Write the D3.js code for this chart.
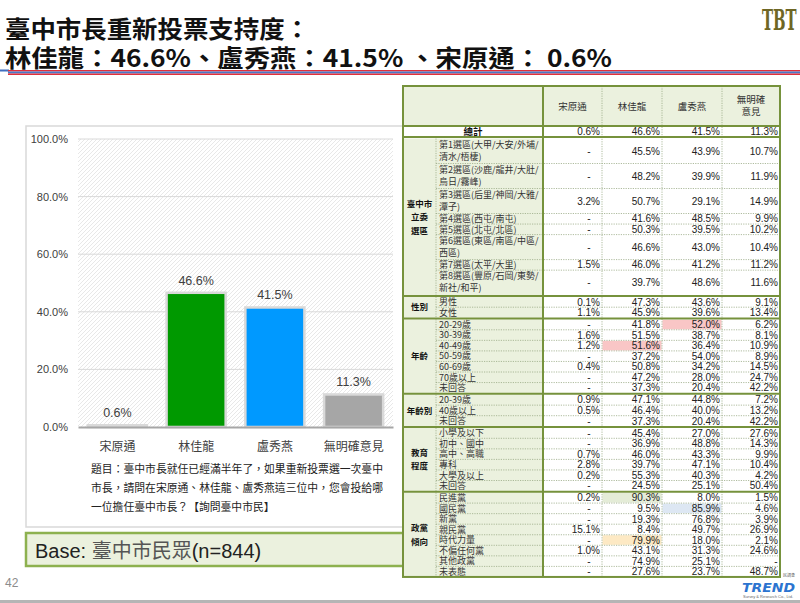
<!DOCTYPE html>
<html><head><meta charset="utf-8">
<script src="https://cdn.jsdelivr.net/npm/d3@7"></script>
<style>body{margin:0;background:#fff}svg{display:block}</style>
</head><body><svg id="c" width="800" height="603"></svg>
<script>
// ---------- data ----------
const titleLines = ["臺中市長重新投票支持度：", "林佳龍：46.6%、盧秀燕：41.5% 、宋原通： 0.6%"];
const categories = ["宋原通", "林佳龍", "盧秀燕", "無明確意見"];
const support = [0.6, 46.6, 41.5, 11.3];
const yTicks = [0, 20, 40, 60, 80, 100];
const questionLines = ["題目：臺中市長就任已經滿半年了，如果重新投票選一次臺中",
  "市長，請問在宋原通、林佳龍、盧秀燕這三位中，您會投給哪",
  "一位擔任臺中市長？【詢問臺中市民】"];
const baseLabel = ["Base: ", "臺中市民眾", "(n=844)"];
const pageNumber = "42";

const tableHeaders = ["宋原通", "林佳龍", "盧秀燕", "無明確\n意見"];
const totalLabel = "總計";
const totalValues = [0.6, 46.6, 41.5, 11.3];

const groupNames = ["臺中市\n立委\n選區", "性別", "年齡", "年齡別", "教育\n程度", "政黨\n傾向"];
const districtLabels = ["第1選區(大甲/大安/外埔/\n清水/梧棲)", "第2選區(沙鹿/龍井/大肚/\n烏日/霧峰)",
  "第3選區(后里/神岡/大雅/\n潭子)", "第4選區(西屯/南屯)", "第5選區(北屯/北區)",
  "第6選區(東區/南區/中區/\n西區)", "第7選區(太平/大里)", "第8選區(豐原/石岡/東勢/\n新社/和平)"];
const districtValues = [[null, 45.5, 43.9, 10.7], [null, 48.2, 39.9, 11.9], [3.2, 50.7, 29.1, 14.9],
  [null, 41.6, 48.5, 9.9], [null, 50.3, 39.5, 10.2], [null, 46.6, 43.0, 10.4], [1.5, 46.0, 41.2, 11.2],
  [null, 39.7, 48.6, 11.6]];
const genderLabels = ["男性", "女性"];
const genderValues = [[0.1, 47.3, 43.6, 9.1], [1.1, 45.9, 39.6, 13.4]];
const ageLabels = ["20-29歲", "30-39歲", "40-49歲", "50-59歲", "60-69歲", "70歲以上", "未回答"];
const ageValues = [[null, 41.8, 52.0, 6.2], [1.6, 51.5, 38.7, 8.1], [1.2, 51.6, 36.4, 10.9],
  [null, 37.2, 54.0, 8.9], [0.4, 50.8, 34.2, 14.5], [null, 47.2, 28.0, 24.7], [null, 37.3, 20.4, 42.2]];
const ageGroupLabels = ["20-39歲", "40歲以上", "未回答"];
const ageGroupValues = [[0.9, 47.1, 44.8, 7.2], [0.5, 46.4, 40.0, 13.2], [null, 37.3, 20.4, 42.2]];
const eduLabels = ["小學及以下", "初中、國中", "高中、高職", "專科", "大學及以上", "未回答"];
const eduValues = [[null, 45.4, 27.0, 27.6], [null, 36.9, 48.8, 14.3], [0.7, 46.0, 43.3, 9.9],
  [2.8, 39.7, 47.1, 10.4], [0.2, 55.3, 40.3, 4.2], [null, 24.5, 25.1, 50.4]];
const partyLabels = ["民進黨", "國民黨", "新黨", "親民黨", "時代力量", "不偏任何黨", "其他政黨", "未表態"];
const partyValues = [[0.2, 90.3, 8.0, 1.5], [null, 9.5, 85.9, 4.6], [null, 19.3, 76.8, 3.9],
  [15.1, 8.4, 49.7, 26.9], [null, 79.9, 18.0, 2.1], [1.0, 43.1, 31.3, 24.6], [null, 74.9, 25.1, null],
  [null, 27.6, 23.7, 48.7]];
// highlighted cells: [group index, row index, value column index, colour]
const highlights = [[2, 0, 2, "#f9c6c6"], [2, 2, 1, "#f9c6c6"], [5, 0, 1, "#e4ecd7"],
  [5, 1, 2, "#dde7f3"], [5, 4, 1, "#fde9c4"]];

// ---------- styles ----------
const LAT = "'Liberation Sans','Noto Sans CJK TC',sans-serif";
const CJK = "'Noto Sans CJK TC','Liberation Sans',sans-serif";
const barColors = ["#cfcff5", "#009900", "#0099ff", "#a6a6a6"];
const svg = d3.select("#c");

// ---------- header ----------
svg.append("text").attr("x", 5).attr("y", 37.5).attr("font-family", CJK).attr("font-weight", 700)
  .attr("font-size", 24).attr("fill", "#111").attr("textLength", 305).attr("lengthAdjust", "spacingAndGlyphs")
  .text(titleLines[0]);
svg.append("text").attr("x", 5).attr("y", 67).attr("font-family", CJK).attr("font-weight", 700)
  .attr("font-size", 24).attr("fill", "#111").attr("textLength", 607).attr("lengthAdjust", "spacingAndGlyphs")
  .text(titleLines[1]);
svg.append("rect").attr("x", 0).attr("y", 69.5).attr("width", 9).attr("height", 2).attr("fill", "#3f6fc0");
svg.append("rect").attr("x", 8).attr("y", 70).attr("width", 792).attr("height", 1.5).attr("fill", "#e0303c");
svg.append("rect").attr("x", 8).attr("y", 71.5).attr("width", 792).attr("height", 2).attr("fill", "#4a78c8");
svg.append("rect").attr("x", 8).attr("y", 73.5).attr("width", 792).attr("height", 1.5).attr("fill", "#e0303c");
svg.append("text").attr("transform", "translate(762,30) scale(0.55,1)")
  .attr("font-family", "'DejaVu Serif',serif").attr("font-weight", 700)
  .attr("font-size", 27).attr("fill", "#6e6624").text("TBT");

// ---------- chart panel ----------
svg.append("rect").attr("x", 26).attr("y", 126).attr("width", 377).attr("height", 401)
  .attr("fill", "#fff").attr("stroke", "#d9d9d9").attr("stroke-width", 1.5);

const x = d3.scaleBand().domain(categories).range([78, 393]).paddingInner(0.25).paddingOuter(0.125);
const y = d3.scaleLinear().domain([0, 100]).range([427, 139]);

const defs = svg.append("defs");
const pat = defs.append("pattern").attr("id", "hatch").attr("width", 4).attr("height", 4)
  .attr("patternUnits", "userSpaceOnUse");
pat.append("path").attr("d", "M-1,1 l2,-2 M0,4 l4,-4 M3,5 l2,-2").attr("stroke", "#e2e2e2").attr("stroke-width", 0.8);

svg.append("rect").attr("x", 78).attr("y", y(100)).attr("width", 315).attr("height", y(0) - y(100))
  .attr("fill", "url(#hatch)");
svg.append("g").selectAll("line").data(yTicks.filter(d => d > 0)).join("line")
  .attr("x1", 78).attr("x2", 393).attr("y1", d => y(d)).attr("y2", d => y(d))
  .attr("stroke", "#d9d9d9").attr("stroke-width", 1);

const yAxis = svg.append("g").attr("transform", "translate(78,0)")
  .call(d3.axisLeft(y).tickValues(yTicks).tickFormat(d => d.toFixed(1) + "%").tickSize(0).tickPadding(10));
yAxis.select(".domain").remove();
yAxis.selectAll("text").attr("font-family", LAT).attr("font-size", 11).attr("fill", "#404040");

svg.append("g").selectAll("rect").data(categories).join("rect")
  .attr("x", d => x(d)).attr("y", (d, i) => y(support[i])).attr("width", x.bandwidth())
  .attr("height", (d, i) => y(0) - y(support[i])).attr("fill", (d, i) => barColors[i])
  .attr("stroke", "#d9d9d9").attr("stroke-width", 2.5);

const xAxis = svg.append("g").attr("transform", "translate(0,427)")
  .call(d3.axisBottom(x).tickSize(0).tickPadding(15));
xAxis.select(".domain").attr("stroke", "#a6a6a6").attr("stroke-width", 2);
xAxis.selectAll("text").attr("font-family", CJK).attr("font-size", 12).attr("fill", "#404040");

svg.append("g").selectAll("text").data(categories).join("text")
  .attr("x", d => x(d) + x.bandwidth() / 2).attr("y", (d, i) => y(support[i]) - 8)
  .attr("text-anchor", "middle").attr("font-family", LAT).attr("font-size", 12.5).attr("fill", "#404040")
  .text((d, i) => support[i].toFixed(1) + "%");

questionLines.forEach((l, i) => {
  const t = svg.append("text").attr("x", 91).attr("y", 473 + i * 19).attr("font-family", CJK)
    .attr("font-size", 10.8).attr("fill", "#222").text(l);
  if (i < 2) t.attr("textLength", 292).attr("lengthAdjust", "spacingAndGlyphs");
});

// base box
svg.append("rect").attr("x", 26).attr("y", 533).attr("width", 385).attr("height", 33)
  .attr("fill", "#ebf1de").attr("stroke", "#8db14f").attr("stroke-width", 2.5);
const bt = svg.append("text").attr("x", 35).attr("y", 558).attr("font-family", LAT).attr("font-size", 20);
bt.append("tspan").attr("fill", "#222").text(baseLabel[0]);
bt.append("tspan").attr("fill", "#555").attr("font-family", CJK).text(baseLabel[1]);
bt.append("tspan").attr("fill", "#222").text(baseLabel[2]);

svg.append("text").attr("x", 5).attr("y", 587).attr("font-family", LAT).attr("font-size", 12)
  .attr("fill", "#8c8c8c").text(pageNumber);
svg.append("rect").attr("x", 0).attr("y", 600).attr("width", 800).attr("height", 3).attr("fill", "#b5b5b5");

// ---------- table ----------
const colX = [403, 436, 543, 602, 662, 722, 780];
const T0 = 86, HB = 126, TB = 137;
const groupLabels = [districtLabels, genderLabels, ageLabels, ageGroupLabels, eduLabels, partyLabels];
const groupValues = [districtValues, genderValues, ageValues, ageGroupValues, eduValues, partyValues];
let yc = TB;
const groups = groupNames.map((name, gi) => {
  yc += 1.5;
  const top = yc;
  const rows = groupLabels[gi].map((lab, ri) => {
    const h = lab.includes("\n") ? 25 : 10.55;
    const r = {label: lab, vals: groupValues[gi][ri], top: yc, h: h};
    yc += h;
    return r;
  });
  return {name, top, bottom: yc, rows};
});
const TBOT = yc;
const tg = svg.append("g");
tg.append("rect").attr("x", colX[0]).attr("y", T0).attr("width", colX[6] - colX[0]).attr("height", TBOT - T0).attr("fill", "#fff");
tg.append("rect").attr("x", colX[0]).attr("y", T0).attr("width", colX[6] - colX[0]).attr("height", HB - T0).attr("fill", "#ebf1de");
groups.forEach(g => {
  tg.append("rect").attr("x", colX[0]).attr("y", g.top).attr("width", colX[2] - colX[0])
    .attr("height", g.bottom - g.top).attr("fill", "#ebf1de");
});
highlights.forEach(([gi, ri, ci, col]) => {
  const r = groups[gi].rows[ri];
  tg.append("rect").attr("x", colX[ci + 2] + 0.5).attr("y", r.top + 0.5).attr("width", colX[ci + 3] - colX[ci + 2] - 1)
    .attr("height", r.h - 1).attr("fill", col);
});
const dot = sel => sel.attr("stroke", "#9aab86").attr("stroke-width", 0.8).attr("stroke-dasharray", "1.2,1.2");
groups.forEach(g => {
  g.rows.slice(0, -1).forEach(r => {
    dot(tg.append("line").attr("x1", colX[1]).attr("x2", colX[6]).attr("y1", r.top + r.h).attr("y2", r.top + r.h));
  });
  dot(tg.append("line").attr("x1", colX[1]).attr("x2", colX[1]).attr("y1", g.top).attr("y2", g.bottom));
});
[3, 4, 5].forEach(c => dot(tg.append("line").attr("x1", colX[c]).attr("x2", colX[c]).attr("y1", T0).attr("y2", TBOT)));
const thick = sel => sel.attr("stroke", "#76923c").attr("stroke-width", 2);
[HB, TB].concat(groups.slice(0, -1).map(g => g.bottom + 0.75)).forEach(yy =>
  thick(tg.append("line").attr("x1", colX[0]).attr("x2", colX[6]).attr("y1", yy).attr("y2", yy)));
thick(tg.append("line").attr("x1", colX[2]).attr("x2", colX[2]).attr("y1", T0).attr("y2", TBOT));
thick(tg.append("rect").attr("x", colX[0]).attr("y", T0).attr("width", colX[6] - colX[0]).attr("height", TBOT - T0).attr("fill", "none"));

// header text
tableHeaders.forEach((h, i) => {
  const cx = (colX[i + 2] + colX[i + 3]) / 2;
  const lines = h.split("\n");
  lines.forEach((l, k) => {
    tg.append("text").attr("x", cx).attr("y", lines.length === 1 ? 110 : 102.5 + k * 12.7)
      .attr("text-anchor", "middle").attr("font-family", CJK).attr("font-size", 9.5).attr("fill", "#333").text(l);
  });
});
const fmt = v => v.toFixed(1) + "%";
const dashOff = [13, 13, 13, 4];
function valueRow(vals, top, h, bold) {
  vals.forEach((v, i) => {
    const right = colX[i + 3];
    const t = tg.append("text").attr("y", top + h / 2 + 3.6).attr("font-family", LAT).attr("font-size", 10)
      .attr("fill", "#222");
    if (bold) t.attr("font-weight", 700);
    if (v === null) t.attr("x", right - dashOff[i]).attr("text-anchor", "middle").text("-");
    else t.attr("x", right - 2).attr("text-anchor", "end").text(fmt(v));
  });
}
tg.append("text").attr("x", (colX[0] + colX[2]) / 2).attr("y", 135).attr("text-anchor", "middle")
  .attr("font-family", CJK).attr("font-size", 9.5).attr("font-weight", 700).attr("fill", "#111").text(totalLabel);
valueRow(totalValues, HB, TB - HB, false);

groups.forEach(g => {
  const lines = g.name.split("\n");
  const mid = (g.top + g.bottom) / 2;
  lines.forEach((l, k) => {
    tg.append("text").attr("x", (colX[0] + colX[1]) / 2).attr("y", mid + (k - (lines.length - 1) / 2) * 13.5 + 3.2)
      .attr("text-anchor", "middle").attr("font-family", CJK).attr("font-size", 8.5).attr("font-weight", 700)
      .attr("fill", "#111").text(l);
  });
  g.rows.forEach(r => {
    const ls = r.label.split("\n");
    ls.forEach((l, k) => {
      tg.append("text").attr("x", colX[1] + 3)
        .attr("y", ls.length === 1 ? r.top + r.h / 2 + 3.3 : r.top + 9.3 + k * 11.7)
        .attr("font-family", CJK).attr("font-size", 9).attr("fill", "#333").text(l);
    });
    valueRow(r.vals, r.top, r.h, false);
  });
});

// ---------- TREND logo ----------
svg.append("text").attr("x", 783).attr("y", 577).attr("font-family", CJK).attr("font-size", 4).attr("fill", "#666").text("民調查");
svg.append("text").attr("x", 742).attr("y", 592).attr("font-family", "'DejaVu Sans',sans-serif").attr("font-weight", 700)
  .attr("font-style", "italic").attr("font-size", 12).attr("fill", "#2c74d0").attr("textLength", 53)
  .attr("lengthAdjust", "spacingAndGlyphs").text("TREND");
svg.append("text").attr("x", 743).attr("y", 597.5).attr("font-family", LAT).attr("font-size", 4).attr("fill", "#666")
  .attr("textLength", 50).attr("lengthAdjust", "spacingAndGlyphs").text("Survey & Research Co., Ltd.");
</script></body></html>
